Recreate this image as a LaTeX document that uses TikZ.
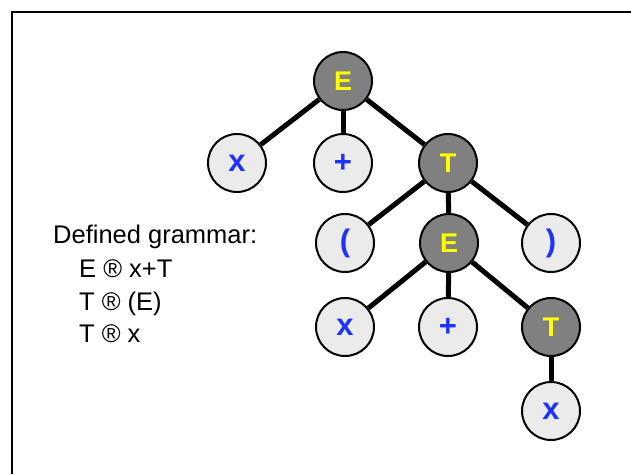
\documentclass[tikz,border=0pt]{standalone}
\usepackage{fontspec}
\setmainfont{Liberation Sans}
\usetikzlibrary{positioning}

\definecolor{nodegray}{RGB}{128,128,128}
\definecolor{leaffill}{RGB}{235,235,235}
\definecolor{leafblue}{RGB}{30,50,255}
\definecolor{termyellow}{RGB}{255,255,0}

\tikzset{
  nonterm/.style={circle,draw=black,line width=2pt,fill=nodegray,minimum size=58pt,inner sep=0pt,
    font=\fontsize{27}{27}\selectfont\bfseries,text=termyellow},
  leaf/.style={circle,draw=black,line width=2pt,fill=leaffill,minimum size=58pt,inner sep=0pt,
    font=\fontsize{31}{31}\selectfont\bfseries,text=leafblue},
  gramtext/.style={anchor=base west,inner sep=0pt,font=\fontsize{25.5}{25.5}\selectfont}
}

\begin{document}
\begin{tikzpicture}[x=1pt, y=-1pt]
  \useasboundingbox (0,0) rectangle (631,474);
  % frame
  \draw[line width=1.8pt] (12,474) -- (12,12) -- (631,12);

  \node[nonterm] (e0) at (343,81) {E};
  \node[leaf]    (x1) at (237,163) {x};
  \node[leaf]    (p1) at (343,163) {+};
  \node[nonterm] (t1) at (448,163) {T};
  \node[leaf]    (lp) at (345,243) {(};
  \node[nonterm] (e1) at (449,243) {E};
  \node[leaf]    (rp) at (551,243) {)};
  \node[leaf]    (x2) at (345,327) {x};
  \node[leaf]    (p2) at (448,327) {+};
  \node[nonterm] (t2) at (551,327) {T};
  \node[leaf]    (x3) at (551,411) {x};

  \path[draw, line width=5pt]
    (e0) edge (x1)
         edge (p1)
         edge (t1)
    (t1) edge (lp)
         edge (e1)
         edge (rp)
    (e1) edge (x2)
         edge (p2)
         edge (t2)
    (t2) edge (x3);

  % grammar
  \node[gramtext] (gtitle) at (53,243) {Defined grammar:};
  \node[gramtext] (rule1) at (79,277) {E ® x+T};
  \node[gramtext] (rule2) at (79,310) {T ® (E)};
  \node[gramtext] (rule3) at (79,342) {T ® x};
\end{tikzpicture}
\end{document}
